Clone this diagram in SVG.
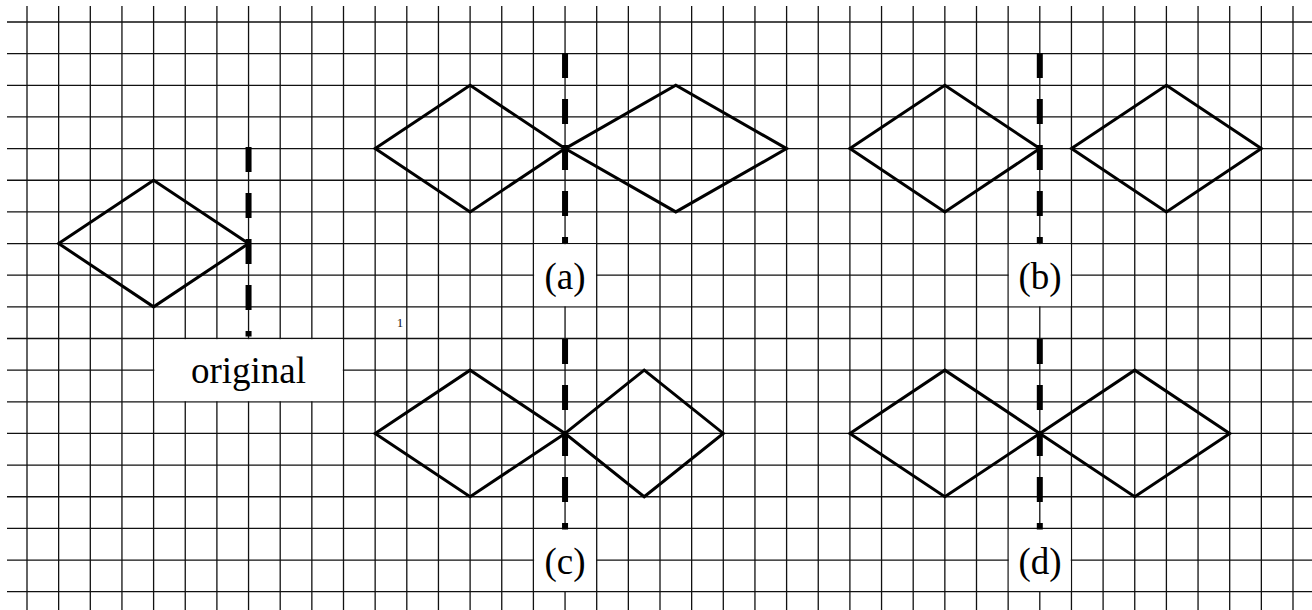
<svg xmlns="http://www.w3.org/2000/svg" width="1312" height="610" viewBox="0 0 1312 610">
<style>
.grid{fill:none;stroke:#111;stroke-width:1.3}
.shape{fill:none;stroke:#000;stroke-width:3;stroke-linejoin:miter}
.axis{stroke:#000;stroke-width:6;stroke-dasharray:25 21;fill:none}
.box{fill:#fff;stroke:none}
.lbl{font-family:"Liberation Serif","Times New Roman",serif;font-size:37px;fill:#000;text-anchor:middle}
</style>
<rect x="0" y="0" width="1312" height="610" fill="#fff"/>
<g id="grid" class="grid">
<path d="M27 6V610M58.65 6V610M90.3 6V610M121.95 6V610M153.6 6V610M185.25 6V610M216.9 6V610M248.55 6V610M280.2 6V610M311.85 6V610M343.5 6V610M375.15 6V610M406.8 6V610M438.45 6V610M470.1 6V610M501.75 6V610M533.4 6V610M565.05 6V610M596.7 6V610M628.35 6V610M660 6V610M691.65 6V610M723.3 6V610M754.95 6V610M786.6 6V610M818.25 6V610M849.9 6V610M881.55 6V610M913.2 6V610M944.85 6V610M976.5 6V610M1008.15 6V610M1039.8 6V610M1071.45 6V610M1103.1 6V610M1134.75 6V610M1166.4 6V610M1198.05 6V610M1229.7 6V610M1261.35 6V610M1293 6V610"/>
<path d="M7 22H1312M7 53.65H1312M7 85.3H1312M7 116.95H1312M7 148.6H1312M7 180.25H1312M7 211.9H1312M7 243.55H1312M7 275.2H1312M7 306.85H1312M7 338.5H1312M7 370.15H1312M7 401.8H1312M7 433.45H1312M7 465.1H1312M7 496.75H1312M7 528.4H1312M7 560.05H1312M7 591.7H1312"/>
</g>
<g id="label-boxes">
<rect class="box" x="154.3" y="339.2" width="188.5" height="61.9"/>
<rect class="box" x="534.1" y="244.25" width="61.9" height="61.9"/>
<rect class="box" x="1008.85" y="244.25" width="61.9" height="61.9"/>
<rect class="box" x="534.1" y="529.1" width="61.9" height="61.9"/>
<rect class="box" x="1008.85" y="529.1" width="61.9" height="61.9"/>
</g>
<g id="axes">
<line class="axis" x1="248.55" y1="147" x2="248.55" y2="336.5"/>
<line class="axis" x1="565.05" y1="53" x2="565.05" y2="243"/>
<line class="axis" x1="1039.8" y1="53" x2="1039.8" y2="243"/>
<line class="axis" x1="565.05" y1="339" x2="565.05" y2="529.5"/>
<line class="axis" x1="1039.8" y1="339" x2="1039.8" y2="529.5"/>
</g>
<g id="original-shape"><polygon class="shape" points="58.65,243.55 153.6,180.25 248.55,243.55 153.6,306.85"/></g>
<g id="a-left"><polygon class="shape" points="375.15,148.6 470.1,85.3 565.05,148.6 470.1,211.9"/></g>
<g id="a-right"><polygon class="shape" points="565.05,148.6 675.8,85.3 786.6,148.6 675.8,211.9"/></g>
<g id="b-left"><polygon class="shape" points="849.9,148.6 944.85,85.3 1039.8,148.6 944.85,211.9"/></g>
<g id="b-right"><polygon class="shape" points="1071.45,148.6 1166.4,85.3 1261.35,148.6 1166.4,211.9"/></g>
<g id="c-left"><polygon class="shape" points="375.15,433.45 470.1,370.15 565.05,433.45 470.1,496.75"/></g>
<g id="c-right"><polygon class="shape" points="565.05,433.45 644.2,370.15 723.3,433.45 644.2,496.75"/></g>
<g id="d-left"><polygon class="shape" points="849.9,433.45 944.85,370.15 1039.8,433.45 944.85,496.75"/></g>
<g id="d-right"><polygon class="shape" points="1039.8,433.45 1134.75,370.15 1229.7,433.45 1134.75,496.75"/></g>
<g id="labels">
<text class="lbl" x="248.5" y="383">original</text>
<text class="lbl" x="565" y="289">(a)</text>
<text class="lbl" x="1040" y="289">(b)</text>
<text class="lbl" x="565" y="574">(c)</text>
<text class="lbl" x="1040" y="574">(d)</text>
<text x="400" y="327" font-family="Liberation Serif, serif" font-size="13" fill="#112" text-anchor="middle">1</text>
</g>
</svg>
